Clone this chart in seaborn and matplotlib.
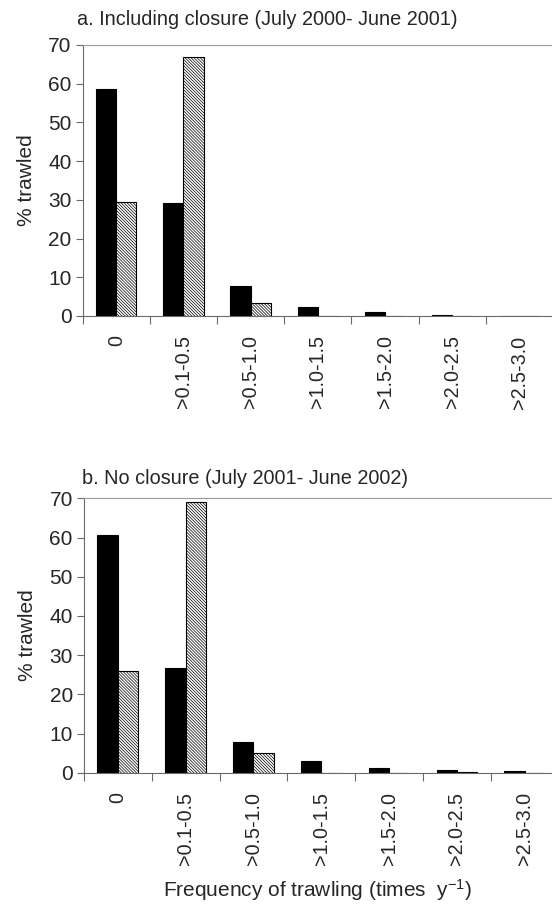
import numpy as np
import pandas as pd
import matplotlib
matplotlib.use("Agg")
import matplotlib.pyplot as plt
import seaborn as sns

categories = ["0", ">0.1-0.5", ">0.5-1.0", ">1.0-1.5", ">1.5-2.0", ">2.0-2.5", ">2.5-3.0"]
series_names = ["Series 1", "Series 2"]

a_series1 = [58.6, 29.3, 7.8, 2.4, 0.9, 0.3, 0.1]
a_series2 = [29.5, 66.8, 3.3, 0.0, 0.0, 0.0, 0.0]
b_series1 = [60.6, 26.7, 7.9, 2.9, 1.1, 0.8, 0.35]
b_series2 = [25.9, 69.1, 5.0, 0.0, 0.0, 0.1, 0.0]

title_a = "a. Including closure (July 2000- June 2001)"
title_b = "b. No closure (July 2001- June 2002)"
ylabel = "% trawled"
xlabel = "Frequency of trawling (times  y$^{\\mathrm{-1}}$)"
yticks = [0, 10, 20, 30, 40, 50, 60, 70]

sns.set_style("ticks")
plt.rcParams["font.family"] = ["Liberation Sans", "DejaVu Sans"]
plt.rcParams["mathtext.fontset"] = "custom"
plt.rcParams["mathtext.rm"] = "Liberation Sans"
plt.rcParams["mathtext.it"] = "Liberation Sans:italic"
plt.rcParams["hatch.linewidth"] = 0.5
plt.rcParams["hatch.color"] = "black"


def make_df(s1, s2):
    return pd.DataFrame({
        "category": categories * 2,
        "series": [series_names[0]] * len(categories) + [series_names[1]] * len(categories),
        "value": list(s1) + list(s2),
    })


fig = plt.figure(figsize=(5.52, 9.09), dpi=100)
ax_a = fig.add_axes([0.1498, 0.6524, 0.852, 0.2981])
ax_b = fig.add_axes([0.152, 0.1499, 0.860, 0.3019])

spine_col = "#6a6a6a"
for ax, s1, s2, title, ty in [(ax_a, a_series1, a_series2, title_a, 0.978),
                               (ax_b, b_series1, b_series2, title_b, 0.474)]:
    df = make_df(s1, s2)
    sns.barplot(data=df, x="category", y="value", hue="series", order=categories,
                hue_order=series_names, palette=["black", "white"], width=0.6,
                edgecolor="black", linewidth=0.8, legend=False, ax=ax, errorbar=None)
    for p in ax.patches:
        if tuple(np.round(p.get_facecolor()[:3], 2)) == (1.0, 1.0, 1.0):
            p.set_hatch("\\" * 11)
    ax.set_xlim(-0.5, 6.5)
    ax.set_ylim(0, 70)
    ax.set_yticks(yticks)
    ax.set_yticklabels([str(t) for t in yticks], fontsize=15)
    ax.set_xticks(range(len(categories)))
    ax.set_xticklabels(categories, rotation=90, fontsize=14.2)
    ax.set_xticks(np.arange(-0.5, 7.0, 1.0), minor=True)
    ax.tick_params(axis="x", which="major", length=0, pad=14)
    ax.tick_params(axis="x", which="minor", length=6, width=0.8, color=spine_col, direction="out")
    ax.tick_params(axis="y", length=5, width=0.8, color=spine_col, direction="out", pad=3)
    ax.set_ylabel(ylabel, fontsize=15, labelpad=9)
    ax.set_xlabel("")
    for side in ["left", "bottom", "top", "right"]:
        ax.spines[side].set_visible(True)
        ax.spines[side].set_color(spine_col)
        ax.spines[side].set_linewidth(0.8)
    ax.spines["top"].set_color("#9a9a9a")
    fig.text(77 / 552 if ax is ax_a else 82 / 552, ty, title, fontsize=14.3,
             ha="left", va="center")

fig.text(0.575, 0.0135, xlabel, fontsize=15, ha="center", va="baseline")

fig.savefig("out.png", dpi=100)
